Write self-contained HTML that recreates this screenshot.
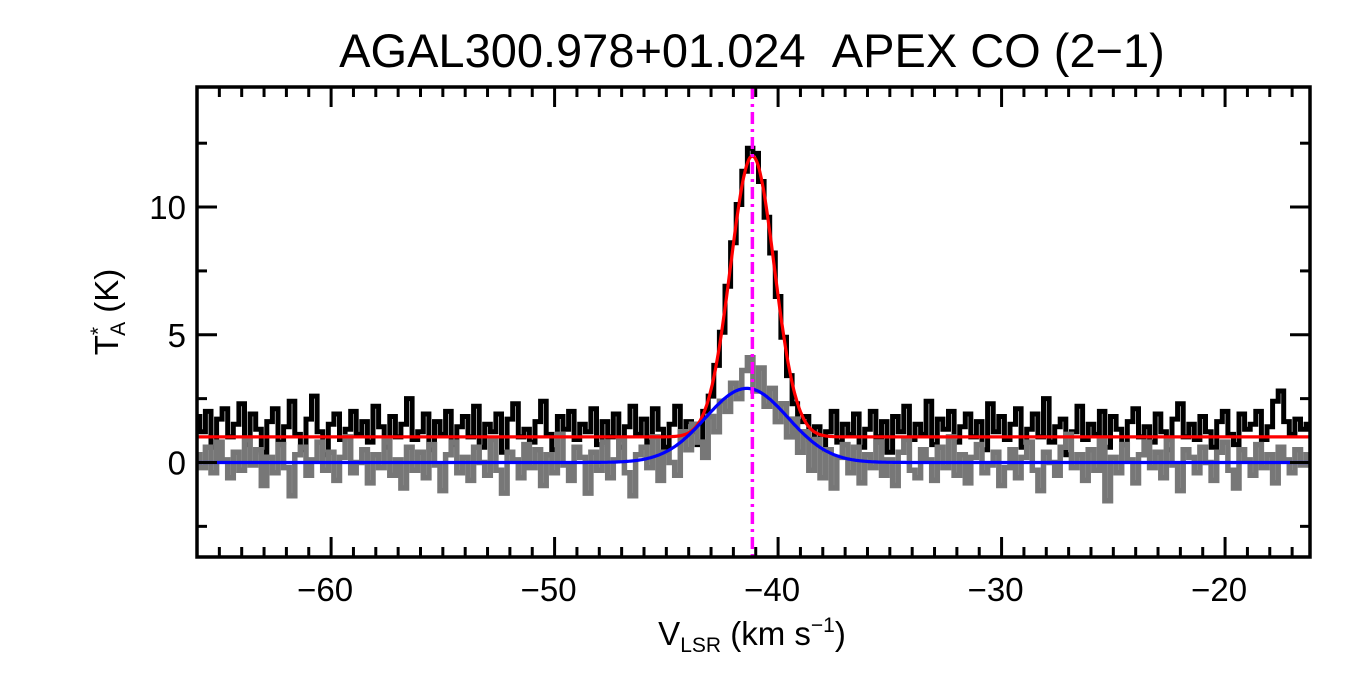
<!DOCTYPE html>
<html><head><meta charset="utf-8"><style>
html,body{margin:0;padding:0;background:#fff;}
svg{display:block;font-family:"Liberation Sans",Arial,sans-serif;}
</style></head><body>
<svg id="chart" width="1350" height="675" viewBox="0 0 1350 675" xmlns="http://www.w3.org/2000/svg">
<rect x="0" y="0" width="1350" height="675" fill="#fff"/>
<defs><clipPath id="plotclip"><rect x="197" y="87" width="1113" height="470"/></clipPath></defs>
<text x="752" y="67" font-size="47" text-anchor="middle">AGAL300.978+01.024&#160;&#160;APEX CO (2−1)</text>
<g id="data" clip-path="url(#plotclip)"></g>
<g id="axes"></g>
<text x="752" y="645" font-size="33" text-anchor="middle">V<tspan font-size="21" dy="7">LSR</tspan><tspan dy="-7"> (km s</tspan><tspan font-size="21" dy="-13">−1</tspan><tspan dy="13">)</tspan></text>
<text transform="translate(118,312) rotate(-90)" font-size="33" text-anchor="middle">T<tspan font-size="21" dy="-13">*</tspan><tspan font-size="21" dx="-9" dy="20">A</tspan><tspan dy="-7"> (K)</tspan></text>
</svg>
<script>
const vStart = -66, vStep = 0.25;
const blackSpec = [1.8,1.2,2.0,0.6,1.7,2.1,1.0,1.5,2.3,0.7,
1.9,1.3,0.4,1.6,2.1,0.8,1.4,2.4,1.1,0.5,
1.7,2.6,1.2,0.3,1.5,1.9,0.9,1.3,2.0,1.1,
1.6,0.8,2.2,1.4,0.6,1.8,1.0,1.5,2.5,0.9,
1.2,1.9,0.5,1.6,1.1,2.0,0.7,1.4,1.8,1.0,
2.2,0.6,1.5,1.2,1.9,0.4,1.7,2.3,1.0,1.3,
0.8,1.6,2.4,1.1,0.5,1.8,1.3,2.0,0.9,1.5,
1.2,2.1,0.7,1.6,1.0,1.9,0.6,1.4,2.2,1.1,
1.7,0.8,2.1,1.3,0.6,1.5,2.2,0.9,1.6,1.2,
0.7,2.0,2.6,3.8,5.1,6.9,8.6,10.1,11.4,12.3,
12.1,11.0,9.6,8.2,6.5,4.9,3.4,2.3,1.6,1.8,
0.9,1.4,0.5,1.2,2.0,0.8,1.5,1.1,1.9,0.6,
1.3,2.0,1.0,1.6,0.4,1.8,1.2,2.2,0.9,1.5,
1.1,2.4,0.7,1.7,1.3,2.0,0.8,1.4,1.9,1.0,
1.6,0.5,2.3,1.2,1.8,0.9,1.5,2.1,0.6,1.3,
1.9,1.0,2.5,0.8,1.4,1.7,0.3,1.2,2.2,0.9,
1.5,1.1,2.0,0.6,1.8,1.3,0.7,1.6,2.1,1.0,
1.4,0.8,1.9,1.2,0.5,1.7,2.3,1.0,1.5,0.9,
1.8,1.2,0.6,1.6,2.0,1.1,0.7,1.9,1.3,1.5,
2.0,0.9,1.4,2.4,2.8,1.6,1.1,1.7,1.3,1.5];
const graySpec = [0.3,-0.2,0.6,-0.4,0.8,0.1,-0.6,0.4,-0.3,0.9,
-0.1,0.5,-0.9,0.2,-0.4,0.7,-0.2,-1.3,0.3,0.6,
-0.5,0.1,0.8,-0.3,0.4,-0.7,0.2,1.0,-0.4,0.0,
0.5,-0.8,0.3,-0.2,0.9,-0.5,0.1,-1.0,0.6,-0.3,
0.4,-0.6,0.7,-0.1,-1.1,0.3,0.8,-0.4,0.2,-0.7,
0.6,0.0,-0.5,0.9,-0.3,-1.2,0.4,0.1,-0.6,0.7,
-0.2,0.5,-0.9,0.3,-0.4,1.1,-0.1,-0.7,0.6,0.2,
-1.2,0.4,-0.3,0.8,-0.6,0.1,0.9,-0.4,-1.3,0.3,
0.6,-0.2,1.0,-0.7,0.4,0.0,-0.5,1.2,0.5,1.5,
0.8,0.2,1.8,1.2,2.4,2.0,3.1,2.5,3.6,4.1,
2.8,3.7,2.2,2.9,1.6,2.3,1.0,1.7,0.4,1.2,
-0.3,0.9,-0.6,0.5,-1.0,0.2,0.7,-0.4,0.6,-0.8,
0.3,-0.2,0.8,-0.5,0.1,-0.9,0.4,0.9,-0.3,-0.6,
0.5,0.1,-0.7,0.6,-0.2,1.0,-0.5,0.3,-0.8,0.2,
0.7,-0.4,-0.1,0.4,-0.9,-0.2,0.5,-0.6,0.2,0.8,
-0.3,-1.1,0.4,0.0,-0.5,0.6,1.1,-0.2,0.3,-0.7,
0.5,-0.3,0.9,-1.5,0.2,-0.4,0.7,0.1,-0.8,0.3,
0.8,-0.2,0.4,-0.6,0.9,-0.1,-1.1,0.5,0.2,-0.4,
0.6,0.0,-0.7,0.4,0.8,-0.3,-1.0,0.5,0.1,-0.5,
0.7,-0.2,0.3,-0.8,0.6,0.1,-0.4,0.5,-0.1,0.3];
// fit params: [amplitude, center, sigma, offset]
const redFit = [11.0, -41.15, 0.98, 1.0];
const blueFit = [2.9, -41.4, 1.84, 0.0];
const markerV = [-41.15];
const xTicks = [-60,-50,-40,-30,-20];
const yTicks = [0,5,10];
const xDomain = [-66.0, -16.2];
const yDomain = [-3.7, 14.7];

const L=197,R=1310,T=87,B=557;
const X=v=>L+(v-xDomain[0])/(xDomain[1]-xDomain[0])*(R-L);
const Y=t=>B-(t-yDomain[0])/(yDomain[1]-yDomain[0])*(B-T);
const NS="http://www.w3.org/2000/svg";
const dataG=document.getElementById('data'), axG=document.getElementById('axes');
function mk(tag,attrs,parent){const e=document.createElementNS(NS,tag);for(const k in attrs)e.setAttribute(k,attrs[k]);parent.appendChild(e);return e;}
function stepPath(arr){let d='';arr.forEach((t,i)=>{const x0=X(vStart+i*vStep-vStep/2),x1=X(vStart+i*vStep+vStep/2),y=Y(t);d+=(i===0?'M':'L')+x0.toFixed(1)+','+y.toFixed(1)+'L'+x1.toFixed(1)+','+y.toFixed(1);});return d;}
function gaussPath(p){let d='';for(let v=xDomain[0];v<=xDomain[1]+0.01;v+=0.05){const t=p[3]+p[0]*Math.exp(-Math.pow(v-p[1],2)/(2*p[2]*p[2]));d+=(d?'L':'M')+X(v).toFixed(1)+','+Y(t).toFixed(1);}return d;}
const bl=mk('path',{d:stepPath(blackSpec),fill:'none',stroke:'#000','stroke-width':5},dataG);


const gr=mk('path',{d:stepPath(graySpec),fill:'none',stroke:'#777','stroke-width':5.5},dataG);


const rd=mk('path',{d:gaussPath(redFit),fill:'none',stroke:'#ff0000','stroke-width':3.2},dataG);


const bu=mk('path',{d:gaussPath(blueFit),fill:'none',stroke:'#0000ff','stroke-width':3.2},dataG);


markerV.forEach(v=>{const m=mk('line',{x1:X(v),x2:X(v),y1:T,y2:B,stroke:'#ff00ff','stroke-width':3.5,'stroke-dasharray':'12,5,3,5'},dataG);

});
const fr=mk('rect',{x:L,y:T,width:R-L,height:B-T,fill:'none',stroke:'#000','stroke-width':3.5},axG);


for(let v=Math.ceil(xDomain[0]);v<=xDomain[1];v++){const major=v%10===0;const len=major?20:10;
mk('line',{x1:X(v),x2:X(v),y1:B,y2:B-len,stroke:'#000','stroke-width':3},axG);
mk('line',{x1:X(v),x2:X(v),y1:T,y2:T+len,stroke:'#000','stroke-width':3},axG);}
xTicks.forEach(v=>{const t=mk('text',{x:X(v)-6,y:601,'font-size':33,'text-anchor':'middle'},axG);t.textContent='−'+Math.abs(v);

});
for(let t=-2.5;t<=yDomain[1];t+=2.5){const major=(t%5===0);const len=major?20:10;
mk('line',{x1:L,x2:L+len,y1:Y(t),y2:Y(t),stroke:'#000','stroke-width':3},axG);
mk('line',{x1:R,x2:R-len,y1:Y(t),y2:Y(t),stroke:'#000','stroke-width':3},axG);}
yTicks.forEach(v=>{const t=mk('text',{x:186,y:Y(v)+12,'font-size':33,'text-anchor':'end'},axG);t.textContent=String(v);

});
</script>
</body></html>
